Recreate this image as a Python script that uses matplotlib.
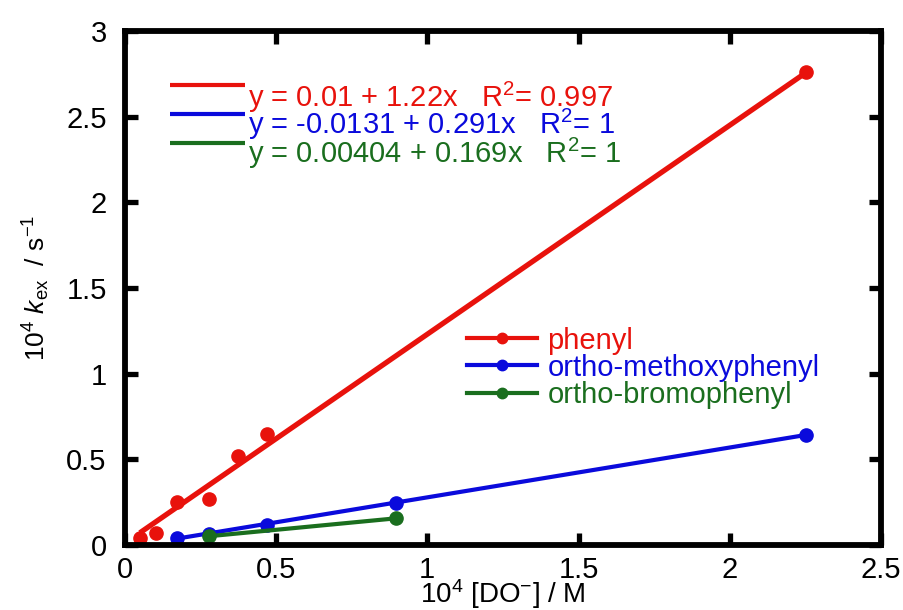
import numpy as np
import matplotlib
matplotlib.use("Agg")
import matplotlib.pyplot as plt
from matplotlib.lines import Line2D

plt.rcParams['font.family'] = ['Liberation Sans', 'DejaVu Sans']
plt.rcParams['mathtext.fontset'] = 'custom'
plt.rcParams['mathtext.rm'] = 'Liberation Sans'
plt.rcParams['mathtext.it'] = 'Liberation Sans:italic'

# data
names = ['phenyl', 'ortho-methoxyphenyl', 'ortho-bromophenyl']
colors = ['#e8120c', '#0a0adc', '#1a6e1e']

x_phenyl = [0.050, 0.103, 0.172, 0.278, 0.374, 0.470, 2.252]
y_phenyl = [0.041, 0.070, 0.251, 0.269, 0.520, 0.648, 2.761]
x_methoxy = [0.172, 0.278, 0.470, 0.896, 2.252]
y_methoxy = [0.038, 0.066, 0.118, 0.243, 0.640]
x_bromo = [0.278, 0.896]
y_bromo = [0.050, 0.155]

intercepts = [0.01, -0.0131, 0.00404]
slopes = [1.22, 0.291, 0.169]
eq_labels = ['y = 0.01 + 1.22x   R$^2$= 0.997',
             'y = -0.0131 + 0.291x   R$^2$= 1',
             'y = 0.00404 + 0.169x   R$^2$= 1']

xticks = [0, 0.5, 1, 1.5, 2, 2.5]
xtick_labels = ['0', '0.5', '1', '1.5', '2', '2.5']
yticks = [0, 0.5, 1, 1.5, 2, 2.5, 3]
ytick_labels = ['0', '0.5', '1', '1.5', '2', '2.5', '3']

FS = 21

fig = plt.figure(figsize=(9.04, 6.10), dpi=100)
ax = fig.add_axes([0.138, 0.1066, 0.8366, 0.8426])

xs = [x_phenyl, x_methoxy, x_bromo]
ys = [y_phenyl, y_methoxy, y_bromo]
widths = [3.8, 3.0, 3.0]
for x, y, c, a, b, lw in zip(xs, ys, colors, intercepts, slopes, widths):
    x = np.array(x)
    xl = np.array([x.min(), x.max()])
    ax.plot(xl, a + b * xl, color=c, lw=lw, solid_capstyle='butt')
    ax.plot(x, y, 'o', color=c, ms=9.5)

ax.set_xlim(0, 2.5)
ax.set_ylim(0, 3)
ax.set_xticks(xticks)
ax.set_xticklabels(xtick_labels)
ax.set_yticks(yticks)
ax.set_yticklabels(ytick_labels)
ax.tick_params(direction='in', length=9, width=3.8, labelsize=FS,
               top=True, right=True)
ax.tick_params(axis='x', pad=8)
ax.tick_params(axis='y', pad=13)
for s in ax.spines.values():
    s.set_linewidth(4.2)

ax.set_xlabel(r'$10^4$ [DO$^{-}$] / M', fontsize=20, labelpad=-5)
ax.set_ylabel(r'$10^4$ $k_{\rm ex}$  / s$^{-1}$', fontsize=19, labelpad=10)

# equation block, upper left
eq_line_y = [2.685, 2.516, 2.347]
eq_text_y = [2.615, 2.452, 2.285]
for lab, c, ly, ty in zip(eq_labels, colors, eq_line_y, eq_text_y):
    ax.plot([0.149, 0.397], [ly, ly], color=c, lw=3.0, solid_capstyle='butt')
    ax.text(0.407, ty, lab, color=c, fontsize=FS, va='center', ha='left')

# series legend, lower right
handles = [Line2D([0], [0], color=c, lw=3.0, marker='o', ms=7.5) for c in colors]
leg = ax.legend(handles, names, loc='center left', bbox_to_anchor=(0.453, 0.345),
                frameon=False, fontsize=FS, handlelength=2.4, handletextpad=0.35,
                labelspacing=-0.03, borderpad=0, borderaxespad=0)
for t, c in zip(leg.get_texts(), colors):
    t.set_color(c)

fig.savefig('out.png', dpi=100)
